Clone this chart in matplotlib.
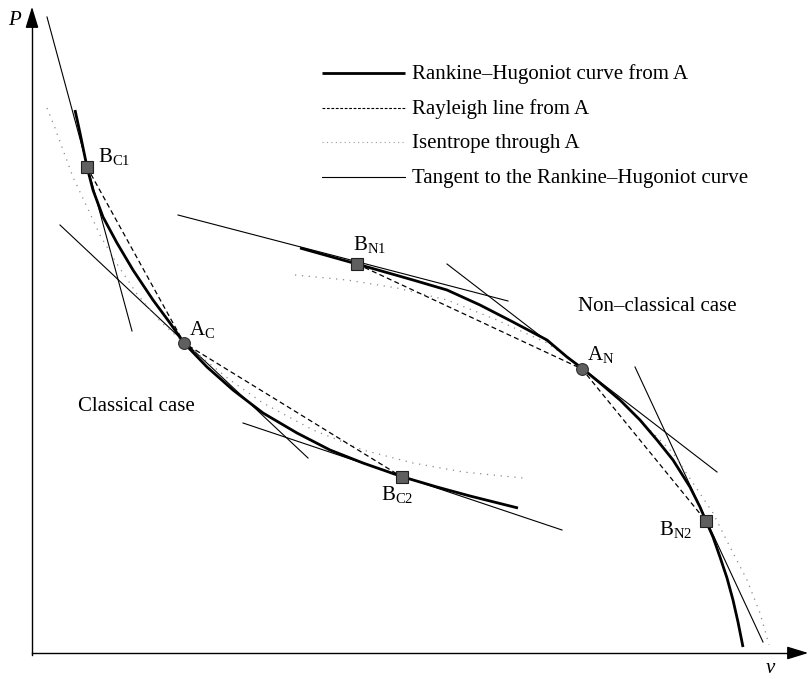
import matplotlib
matplotlib.use("Agg")
import matplotlib.pyplot as plt

plt.rcParams['font.family'] = ['Liberation Serif', 'DejaVu Serif']
plt.rcParams['mathtext.fontset'] = 'custom'
plt.rcParams['mathtext.rm'] = 'Liberation Serif'
plt.rcParams['mathtext.it'] = 'Liberation Serif:italic'

# ---- data (schematic diagram, coordinates: v right, P down in image px) ----
# Classical case
rh_c_v = [75, 80, 87, 93, 103, 117, 133, 153, 170, 184, 207, 233, 263, 297, 330, 363, 403, 437, 470, 518]
rh_c_p = [110, 133, 167, 190, 217, 243, 270, 300, 323, 343, 367, 390, 413, 433, 450, 463, 477, 487, 496, 508]
is_c_v = [47, 55, 63, 73, 87, 100, 117, 137, 160, 184, 230, 263, 313, 363, 413, 463, 523]
is_c_p = [108, 128, 150, 177, 207, 235, 264, 294, 321, 343, 380, 403, 430, 450, 463, 472, 478]
ray_c_v = [87, 184, 402]
ray_c_p = [167, 343, 477]
tan_c = [((47, 17), (132, 331)),      # tangent at B_C1
         ((60, 225), (308, 458)),     # tangent at A_C
         ((243, 423), (562, 530))]    # tangent at B_C2

# Non-classical case
rh_n_v = [300, 357, 413, 447, 480, 513, 547, 567, 583, 600, 620, 640, 657, 673, 690, 700, 706, 713, 720, 727, 733, 738, 743]
rh_n_p = [248, 264, 280, 290, 305, 322, 340, 357, 369, 383, 400, 420, 440, 460, 487, 507, 521, 537, 557, 578, 600, 622, 647]
is_n_v = [295, 347, 397, 447, 497, 547, 583, 613, 647, 673, 693, 713, 730, 747, 760, 769]
is_n_p = [275, 280, 288, 300, 320, 343, 369, 393, 427, 453, 483, 513, 547, 580, 613, 645]
ray_n_v = [357, 582, 706]
ray_n_p = [264, 369, 521]
tan_n = [((178, 215), (508, 301)),    # tangent at B_N1
         ((447, 264), (717, 472)),    # tangent at A_N
         ((635, 367), (763, 642))]    # tangent at B_N2

A_pts = {'A$_{\\mathrm{C}}$': (184, 343), 'A$_{\\mathrm{N}}$': (582, 369)}
B_pts = {'B$_{\\mathrm{C1}}$': (87, 167), 'B$_{\\mathrm{C2}}$': (402, 477),
         'B$_{\\mathrm{N1}}$': (357, 264), 'B$_{\\mathrm{N2}}$': (706, 521)}
label_pos = {'A$_{\\mathrm{C}}$': (189, 335), 'A$_{\\mathrm{N}}$': (587, 360),
             'B$_{\\mathrm{C1}}$': (98, 162), 'B$_{\\mathrm{C2}}$': (381, 500),
             'B$_{\\mathrm{N1}}$': (353, 250), 'B$_{\\mathrm{N2}}$': (659, 535)}

legend_labels = ['Rankine\u2013Hugoniot curve from A', 'Rayleigh line from A',
                 'Isentrope through A', 'Tangent to the Rankine\u2013Hugoniot curve']

# ---- styles ----
FS = 15.0
rh_style = dict(color='black', lw=2.0, solid_capstyle='butt', solid_joinstyle='round')
ray_style = dict(color='black', lw=0.9, linestyle=(0, (4, 2.6)))
is_style = dict(color='#8a8a8a', lw=0.9, linestyle=(0, (1, 4.5)))
tan_style = dict(color='black', lw=0.8)

fig = plt.figure(figsize=(8.12, 6.79), dpi=100)
ax = fig.add_axes([0, 0, 1, 1])
ax.set_xlim(0, 812)
ax.set_ylim(679, 0)
ax.axis('off')

# axes with arrows
ax.plot([32, 32], [655, 20], color='black', lw=1.0)
ax.plot([32, 795], [653, 653], color='black', lw=1.0)
ax.annotate('', xy=(32, 4), xytext=(32, 24),
            arrowprops=dict(arrowstyle='-|>,head_length=1.3,head_width=0.4', color='black', lw=1.0))
ax.annotate('', xy=(811, 653), xytext=(791, 653),
            arrowprops=dict(arrowstyle='-|>,head_length=1.3,head_width=0.4', color='black', lw=1.0))
ax.text(8, 25, 'P', fontsize=FS, style='italic', va='baseline', ha='left')
ax.text(766, 673, 'v', fontsize=FS, style='italic', va='baseline', ha='left')

# curves
for (p0, p1) in tan_c + tan_n:
    ax.plot([p0[0], p1[0]], [p0[1], p1[1]], **tan_style)
ax.plot(is_c_v, is_c_p, **is_style)
ax.plot(is_n_v, is_n_p, **is_style)
ax.plot(ray_c_v, ray_c_p, **ray_style)
ax.plot(ray_n_v, ray_n_p, **ray_style)
ax.plot(rh_c_v, rh_c_p, **rh_style)
ax.plot(rh_n_v, rh_n_p, **rh_style)

# markers
for k, (x, y) in A_pts.items():
    ax.plot(x, y, 'o', ms=8.5, mfc='#5f5f5f', mec='#303030', mew=0.8, zorder=5)
for k, (x, y) in B_pts.items():
    ax.plot(x, y, 's', ms=8.5, mfc='#5f5f5f', mec='#202020', mew=0.8, zorder=5)
for k, (x, y) in label_pos.items():
    ax.text(x, y, k, fontsize=FS, va='baseline', ha='left')

ax.text(78, 411, 'Classical case', fontsize=FS, va='baseline', ha='left')
ax.text(578, 311, 'Non\u2013classical case', fontsize=FS, va='baseline', ha='left')

# legend (manual, to match layout)
leg_y = [73, 108, 142, 177]
leg_styles = [rh_style, dict(color='black', lw=0.8, linestyle=(0, (2.5, 1.5))),
              dict(color='#9a9a9a', lw=0.8, linestyle=(0, (1, 3))), tan_style]
for y, lab, st in zip(leg_y, legend_labels, leg_styles):
    ax.plot([322, 405], [y, y], **st)
    ax.text(412, y + 6, lab, fontsize=FS, va='baseline', ha='left')

fig.savefig('out.png', dpi=100)
